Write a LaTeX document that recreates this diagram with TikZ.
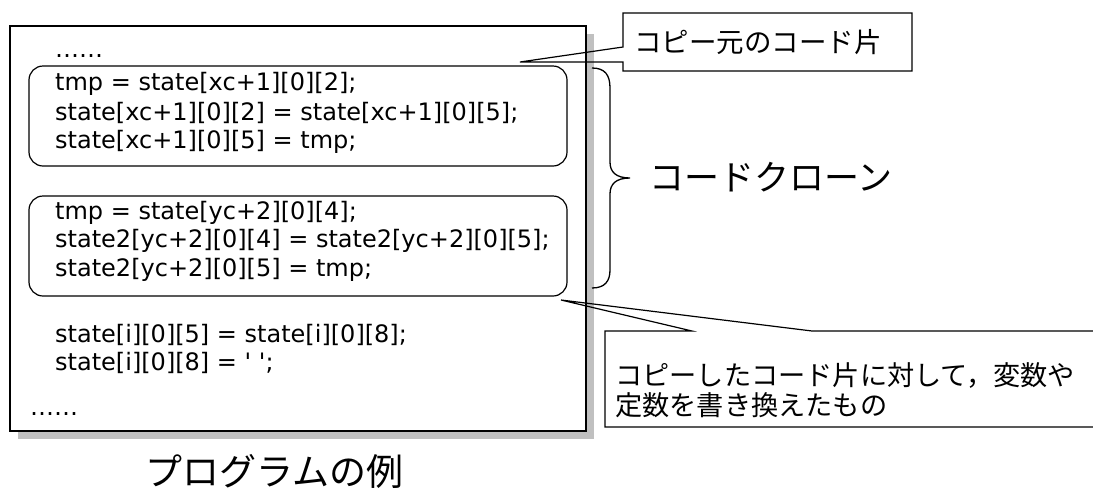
\documentclass[tikz,border=0pt]{standalone}
\usepackage{fontspec}
\setmainfont{DejaVu Sans}
\newfontfamily\codefont{DejaVu Sans}
\newfontfamily\jp{Noto Sans CJK JP}
\usetikzlibrary{shadows}
\definecolor{shadowgray}{RGB}{192,192,192}
\begin{document}
\begin{tikzpicture}[x=1pt,y=-1pt,
  codetext/.style={anchor=base west, inner sep=0pt, font=\codefont\fontsize{24}{29}\selectfont},
  jptext/.style={anchor=base west, inner sep=0pt},
  clonebox/.style={draw, rounded corners=14pt, line width=1.2pt, inner sep=0pt, minimum width=538pt, minimum height=100pt},
  mainbox/.style={draw, fill=white, line width=1.4pt, inner sep=0pt, minimum width=576pt, minimum height=405pt,
     drop shadow={shadow xshift=8pt, shadow yshift=-8pt, fill=shadowgray, opacity=1}},
  callout/.style={draw, line width=1.2pt, line join=miter},
  bracestyle/.style={draw, line width=1.3pt}]
\useasboundingbox (0,0) rectangle (1093,496);

% main program box
\node[mainbox] (main) at (298,228.5) {};

% clone boxes
\node[clonebox] (clone1) at (298,116) {};
\node[clonebox] (clone2) at (298,246) {};

% code text
\node[codetext] (dots1) at (55,57) {……};
\node[codetext] (l1) at (55,90.8) {tmp = state[xc+1][0][2];};
\node[codetext] (l2) at (55,120) {state[xc+1][0][2] = state[xc+1][0][5];};
\node[codetext] (l3) at (55,148.5) {state[xc+1][0][5] = tmp;};
\node[codetext] (l4) at (55,219) {tmp = state[yc+2][0][4];};
\node[codetext] (l5) at (55,247.5) {state2[yc+2][0][4] = state2[yc+2][0][5];};
\node[codetext] (l6) at (55,276) {state2[yc+2][0][5] = tmp;};
\node[codetext] (l7) at (55,342.5) {state[i][0][5] = state[i][0][8];};
\node[codetext] (l8) at (55,370.5) {state[i][0][8] = ' ';};
\node[codetext] (dots2) at (30,415) {……};

% brace
\draw[bracestyle] (592,68) .. controls (605,68) and (610,75) .. (610,88)
  -- (610,162) .. controls (610,172) and (616,178) .. (630,178)
  .. controls (616,178) and (610,184) .. (610,194)
  -- (610,270) .. controls (610,281) and (605,288) .. (592,288);
\node[jptext, font={\jp\fontsize{35}{40}\selectfont}] (clonelabel) at (649,190.5) {コードクローン};

% callout 1
\coordinate (tip1) at (520,62);
\draw[callout] (623,13) -- (912,13) -- (912,71) -- (623,71) -- (623,62) -- (tip1) -- (623,47) -- cycle;
\node[jptext, font={\jp\fontsize{27.5}{30}\selectfont}] (c1text) at (634,52.3) {コピー元のコード片};

% callout 2
\coordinate (tip2) at (561,300);
\draw[callout] (605,331) -- (692,331) -- (tip2) -- (812,331) -- (1100,331) -- (1100,427) -- (605,427) -- cycle;
\node[jptext, font={\jp\fontsize{27.2}{30}\selectfont}] (c2a) at (615,385.3) {コピーしたコード片に対して，変数や};
\node[jptext, font={\jp\fontsize{27.2}{30}\selectfont}] (c2b) at (615,415) {定数を書き換えたもの};

% caption
\node[jptext, font={\jp\fontsize{37}{40}\selectfont}] (caption) at (145,485) {プログラムの例};
\end{tikzpicture}
\end{document}
